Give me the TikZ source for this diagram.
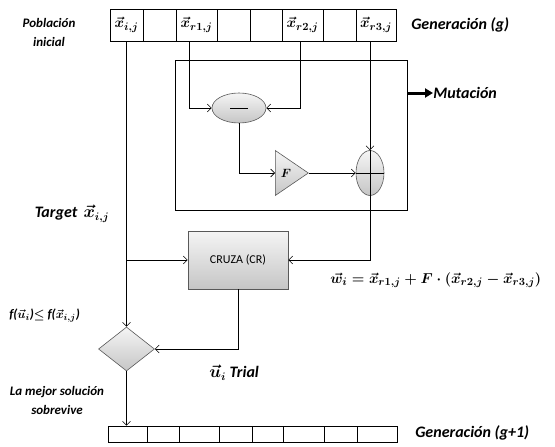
\documentclass[tikz,border=0pt]{standalone}
\usepackage{fontspec}
\setmainfont{Carlito}
\usetikzlibrary{shapes.geometric,arrows.meta}

\begin{document}
\begin{tikzpicture}[x=1pt, y=-1pt, line width=0.6pt,
  >={Straight Barb[length=4pt, width=8pt]},
  cell/.style={draw, inner sep=0pt, minimum height=32pt, font=\fontsize{15}{18}\selectfont\boldmath},
  gcell/.style={draw, inner sep=0pt, minimum height=16pt},
  blob/.style={draw=gray!70!black, top color=gray!8, bottom color=gray!45, inner sep=0pt},
  lbl/.style={inner sep=0pt, font=\fontsize{13}{19}\selectfont\bfseries\itshape\boldmath},
  biglbl/.style={inner sep=0pt, font=\fontsize{16}{19}\selectfont\bfseries\itshape\boldmath}]
\useasboundingbox (0,0) rectangle (555,447);
% generacion g
\node[cell, minimum width=33pt] (cell0) at (126.5,25){$\vec{x}_{i,j}$};
\node[cell, minimum width=33pt] (cell1) at (159.5,25){};
\node[cell, minimum width=41pt] (cell2) at (196.5,25){$\vec{x}_{r1,j}$};
\node[cell, minimum width=33pt] (cell3) at (233.5,25){};
\node[cell, minimum width=32pt] (cell4) at (266,25){};
\node[cell, minimum width=41pt] (cell5) at (302.5,25){$\vec{x}_{r2,j}$};
\node[cell, minimum width=33pt] (cell6) at (339.5,25){};
\node[cell, minimum width=40pt] (cell7) at (376,25){$\vec{x}_{r3,j}$};
\node[lbl, align=center] (pobl) at (49,32){Población\\inicial};
\node[biglbl, anchor=west] (gen0) at (411,25){Generación (g)};
% mutacion
\node[draw, inner sep=0pt, minimum width=232pt, minimum height=150pt] (mutbox) at (291,135){};
\node[biglbl, anchor=west] (mutlbl) at (433,93){Mutación};
\draw[-{Triangle[length=8pt, width=9pt]}, line width=3pt](mutbox.east |- mutlbl.west) -- (mutlbl.west);
\node[blob, ellipse, minimum width=54pt, minimum height=30pt] (minus) at (239,108){};
\draw[](minus.center) +(-9,0) -- +(9,0);
\node[blob, isosceles triangle, isosceles triangle stretches, shape border rotate=0, minimum width=45pt, minimum height=33pt, anchor=lower side] (fmul) at (275,173){};
\node[font=\fontsize{13}{15}\selectfont\boldmath] (fval) at (286,173){$F$};
\node[blob, ellipse, minimum width=28pt, minimum height=45pt] (plus) at (370,173){};
\draw[](plus.west) -- (plus.east);
\draw[->]([xshift=-7.5pt]cell2.south) |- (minus.west);
\draw[->]([xshift=-2.5pt]cell5.south) |- (minus.east);
\draw[->](minus.south) |- (fmul.lower side);
\draw[->](fmul.apex) -- (plus.west);
\draw[->]([xshift=-6pt]cell7.south) -- (plus.north);
% cruza y seleccion
\node[blob, minimum width=100pt, minimum height=58pt, font=\fontsize{12}{14}\selectfont] (cruza) at (238,260){CRUZA (CR)};
\node[blob, diamond, minimum width=56pt, minimum height=44pt] (sel) at (126.5,349){};
\draw[](plus.north) -- (plus.south);
\draw[->](plus.south) |- (cruza.east);
\draw[->](cell0.south) -- (sel.north);
\draw[->](cell0.south |- cruza.west) -- (cruza.west);
\draw[->](cruza.south) |- (sel.east);
\node[biglbl] (target) at (72,214){Target \,$\vec{x}_{i,j}$};
\node[inner sep=0pt, anchor=west, font=\fontsize{15}{18}\selectfont\boldmath] (wform) at (330,280){$\vec{w}_i=\vec{x}_{r1,j}+F\cdot\bigl(\vec{x}_{r2,j}-\vec{x}_{r3,j}\bigr)$};
\node[lbl, anchor=west] (cond) at (9,316){f($\vec{u}_i$)$\leq$ f($\vec{x}_{i,j}$)};
\node[biglbl, anchor=west] (trial) at (209,373){$\vec{u}_i$ Trial};
\node[lbl, align=center] (mejor) at (57,400){La mejor solución\\sobrevive};
% generacion g+1
\node[gcell, minimum width=39pt] (gcell0) at (127.5,434){};
\node[gcell, minimum width=32pt] (gcell1) at (163,434){};
\node[gcell, minimum width=40pt] (gcell2) at (199,434){};
\node[gcell, minimum width=33pt] (gcell3) at (235.5,434){};
\node[gcell, minimum width=31pt] (gcell4) at (267.5,434){};
\node[gcell, minimum width=41pt] (gcell5) at (303.5,434){};
\node[gcell, minimum width=33pt] (gcell6) at (340.5,434){};
\node[gcell, minimum width=40pt] (gcell7) at (377,434){};
\node[biglbl, anchor=west] (gen1) at (415,433){Generación (g+1)};
\draw[->](sel.south) -- (gcell0.north -| sel.south);
\end{tikzpicture}
\end{document}
